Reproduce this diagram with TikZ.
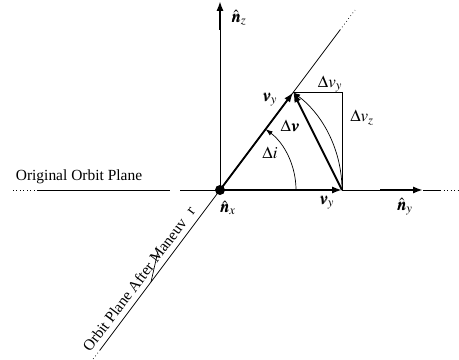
\documentclass[tikz,border=0pt]{standalone}
\usepackage{mathptmx}
\usepackage[no-math]{fontspec}
\setmainfont{Liberation Serif}
\usepackage{amsmath,bm}
\usetikzlibrary{arrows.meta,positioning,calc}

\begin{document}
\begin{tikzpicture}[x=0.025cm, y=0.025cm,
  thinline/.style={line width=0.5pt},
  vec/.style={line width=1.3pt, -{Latex[length=7pt,width=5pt]}},
  dots/.style={line width=0.5pt, dotted},
  arcarrow/.style={line width=0.5pt, -{Latex[length=5pt,width=3.5pt]}},
  lbl/.style={font=\fontsize{12}{14}\selectfont, inner sep=1pt},
  plane/.style={font=\fontsize{11}{13}\selectfont, inner sep=1pt}]
  \useasboundingbox (-220,-170) rectangle (239,190);
  % points
  \coordinate (o) at (0,0);
  \coordinate (a) at (122,0);
  \coordinate (b) at (53.13:122);
  \coordinate (c) at (a |- b);
  \coordinate (ztop) at (0,189);
  \coordinate (zmid) at (0,160);
  \coordinate (yarr) at (160,0);
  \coordinate (ytip) at (203,0);
  \coordinate (yend) at (220,0);
  \coordinate (ydot) at (238,0);
  \coordinate (lgap1) at (-40,0);
  \coordinate (lgap2) at (-50,0);
  \coordinate (lsol) at (-182,0);
  \coordinate (ldot) at (-208,0);
  \coordinate (dtop) at (53.13:200);
  \coordinate (dtopdot) at (53.13:225);
  \coordinate (dbot) at (233.13:200);
  \coordinate (dbotdot) at (233.13:213);
  \coordinate (tick1) at (-69,-92);
  \coordinate (tick2) at (-62,-61);
  % axes and planes
  \draw[thinline] (o) -- (zmid);
  \draw[vec] (zmid) -- (ztop);
  \draw[thinline] (a) -- (yarr);
  \draw[vec] (yarr) -- (ytip);
  \draw[thinline] (ytip) -- (yend);
  \draw[dots] (yend) -- (ydot);
  \draw[thinline] (o) -- (lgap1);
  \draw[thinline] (lgap2) -- (lsol);
  \draw[dots] (lsol) -- (ldot);
  \draw[thinline] (dbot) -- (dtop);
  \draw[dots] (dtop) -- (dtopdot);
  \draw[dots] (dbot) -- (dbotdot);
  \draw[thinline] (tick1) -- (tick2);
  % velocity triangle
  \draw[thinline] (b) -- (c) -- (a);
  \draw[arcarrow] (a) arc[start angle=0, end angle=53.13, radius=122];
  \draw[arcarrow] (76,0) arc[start angle=0, end angle=53.13, radius=76];
  \draw[vec] (o) -- (a);
  \draw[vec] (o) -- (b);
  \draw[vec] (a) -- (b);
  \fill (o) circle[radius=5];
  % labels
  \node[lbl] (nz) at (19,172) {$\hat{\bm{n}}_z$};
  \node[lbl] (nx) at (8,-18) {$\hat{\bm{n}}_x$};
  \node[lbl] (ny) at (185,-17) {$\hat{\bm{n}}_y$};
  \node[lbl] (vyb) at (50,90) {$\bm{v}_y$};
  \node[lbl] (vya) at (107,-13) {$\bm{v}_y$};
  \node[lbl] (dvy) at (110,106) {$\Delta v_y$};
  \node[lbl] (dvz) at (142,72) {$\Delta v_z$};
  \node[lbl] (dv) at (70,64) {$\Delta\bm{v}$};
  \node[lbl] (di) at (50,37) {$\Delta i$};
  \node[plane] (orig) at (-141,13) {Original Orbit Plane};
  \node[plane, rotate=53.13, anchor=south, inner sep=4pt] (after) at (-72,-96) {Orbit Plane After Maneuv\hspace{0.6em}r};
\end{tikzpicture}
\end{document}
